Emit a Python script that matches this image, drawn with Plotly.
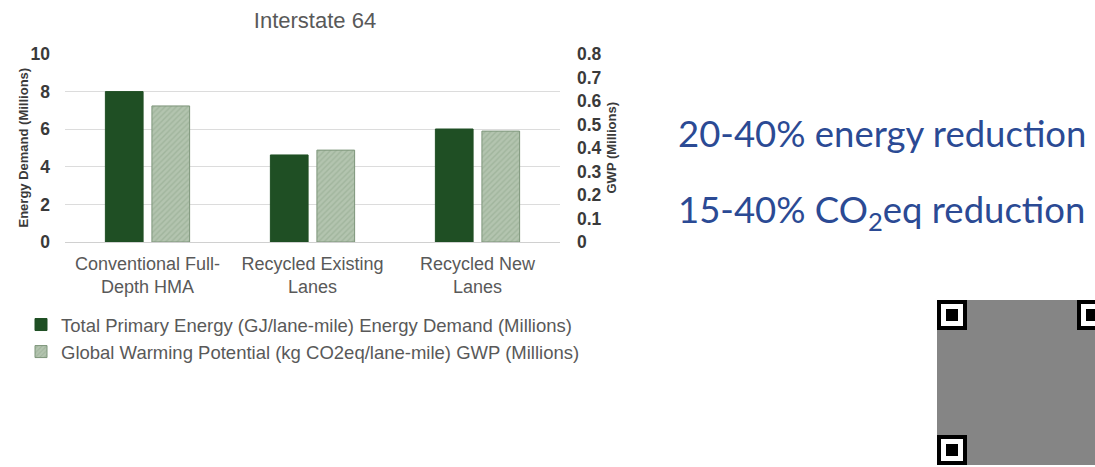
import plotly.graph_objects as go

# ---- data ----
categories = ["Conventional Full-<br>Depth HMA", "Recycled Existing<br>Lanes", "Recycled New<br>Lanes"]
energy_millions = [8.0, 4.63, 6.01]          # Total Primary Energy (GJ/lane-mile), millions
gwp_millions = [0.579, 0.391, 0.472]          # GWP (kg CO2eq/lane-mile), millions
energy_name = "Total Primary Energy (GJ/lane-mile) Energy Demand (Millions)"
gwp_name = "Global Warming Potential (kg CO2eq/lane-mile) GWP (Millions)"
left_ticks = [0, 2, 4, 6, 8, 10]
right_ticks = [0, 0.1, 0.2, 0.3, 0.4, 0.5, 0.6, 0.7, 0.8]
right_ticktext = ["0", "0.1", "0.2", "0.3", "0.4", "0.5", "0.6", "0.7", "0.8"]

W, H = 1095, 467
L, R, T, B = 65, 560, 54, 242

DARK = "#1f4f24"
LIGHT = "#b3c4af"
GREY_TXT = "#595959"
FONT = "Liberation Sans, Arial, sans-serif"

fig = go.Figure()
fig.add_trace(go.Bar(
    x=categories, y=energy_millions, name=energy_name, yaxis="y", offsetgroup="a",
    marker=dict(color=DARK, line=dict(color=DARK, width=1)),
    legendgroup="a",
))
fig.add_trace(go.Bar(
    x=categories, y=gwp_millions, name=gwp_name, yaxis="y2", offsetgroup="b",
    marker=dict(color=LIGHT, line=dict(color="#7d957a", width=1),
                pattern=dict(shape="/", fgcolor="#8fa58b", bgcolor=LIGHT, size=4, solidity=0.35)),
    legendgroup="b",
))

fig.update_layout(
    width=W, height=H,
    margin=dict(l=L, r=W - R, t=T, b=H - B, pad=0, autoexpand=False),
    paper_bgcolor="white", plot_bgcolor="white",
    barmode="group", bargap=0.436, bargroupgap=0.19,
    font=dict(family=FONT, color=GREY_TXT),
    title=dict(text="Interstate 64", x=315 / W, xanchor="center", y=1 - 20 / H, yanchor="middle",
               font=dict(size=22, color=GREY_TXT, family=FONT)),
    xaxis=dict(showgrid=False, showline=False, zeroline=False, ticks="", automargin=False,
               tickfont=dict(size=18, color=GREY_TXT), ticklabelstandoff=9),
    yaxis=dict(range=[0, 10], tickvals=left_ticks, showgrid=True, gridcolor="#dcdcdc", gridwidth=1,
               zeroline=True, zerolinecolor="#d0d0d0", zerolinewidth=1, showline=False, automargin=False,
               tickfont=dict(size=17.5, color="#3a3a3a", family=FONT, weight="bold"),
               ticklabelstandoff=14),
    yaxis2=dict(range=[0, 0.8], tickvals=right_ticks, ticktext=right_ticktext, overlaying="y",
                side="right", showgrid=False, zeroline=False, showline=False, automargin=False,
                tickfont=dict(size=17.5, color="#3a3a3a", family=FONT, weight="bold"),
                ticklabelstandoff=16),
    legend=dict(orientation="v", x=21 / W, xanchor="left", y=1 - 306 / H, yanchor="top",
                xref="container", yref="container",
                font=dict(size=18.5, color=GREY_TXT), tracegroupgap=0, itemwidth=30,
                bgcolor="rgba(0,0,0,0)"),
    showlegend=True,
)

def px(xp):
    return (xp - L) / (R - L)

def py(yp):
    return (B - yp) / (B - T)

# axis titles
fig.add_annotation(text="<b>Energy Demand (Millions)</b>", textangle=-90, xref="paper", yref="paper",
                   x=px(13), y=0.5, showarrow=False, font=dict(size=13, color="#3a3a3a"))
fig.add_annotation(text="<b>GWP (Millions)</b>", textangle=-90, xref="paper", yref="paper",
                   x=px(620), y=0.5, showarrow=False, font=dict(size=13, color="#3a3a3a"))

# right-side text
BLUE = "#2b4a94"
fig.add_annotation(text="20-40% energy reduction", xref="paper", yref="paper",
                   x=px(676), y=py(133), xanchor="left", yanchor="middle",
                   showarrow=False, font=dict(size=36.5, color=BLUE, family="Lato, Open Sans, sans-serif"))
fig.add_annotation(text="15-40% CO<sub>2</sub>eq reduction", xref="paper", yref="paper",
                   x=px(676), y=py(211), xanchor="left", yanchor="middle",
                   showarrow=False, font=dict(size=36.5, color=BLUE, family="Lato, Open Sans, sans-serif"))

# QR-like decoration (bottom right)
shapes = []
shapes.append(dict(type="rect", xref="paper", yref="paper", x0=px(937), x1=px(1095), y0=py(465), y1=py(300),
                   fillcolor="#858585", line=dict(width=0), layer="above"))
for (fx, fy) in [(937, 300), (937, 435), (1077, 300)]:
    s = 30
    shapes.append(dict(type="rect", xref="paper", yref="paper", x0=px(fx), x1=px(fx + s), y0=py(fy + s), y1=py(fy),
                       fillcolor="black", line=dict(width=0), layer="above"))
    shapes.append(dict(type="rect", xref="paper", yref="paper", x0=px(fx + 4), x1=px(fx + s - 4), y0=py(fy + s - 4), y1=py(fy + 4),
                       fillcolor="white", line=dict(width=0), layer="above"))
    shapes.append(dict(type="rect", xref="paper", yref="paper", x0=px(fx + 9), x1=px(fx + s - 9), y0=py(fy + s - 9), y1=py(fy + 9),
                       fillcolor="black", line=dict(width=0), layer="above"))
fig.update_layout(shapes=shapes)

fig.write_html("out.html", config={"displayModeBar": False},
               post_script="document.body.style.margin='0';")
